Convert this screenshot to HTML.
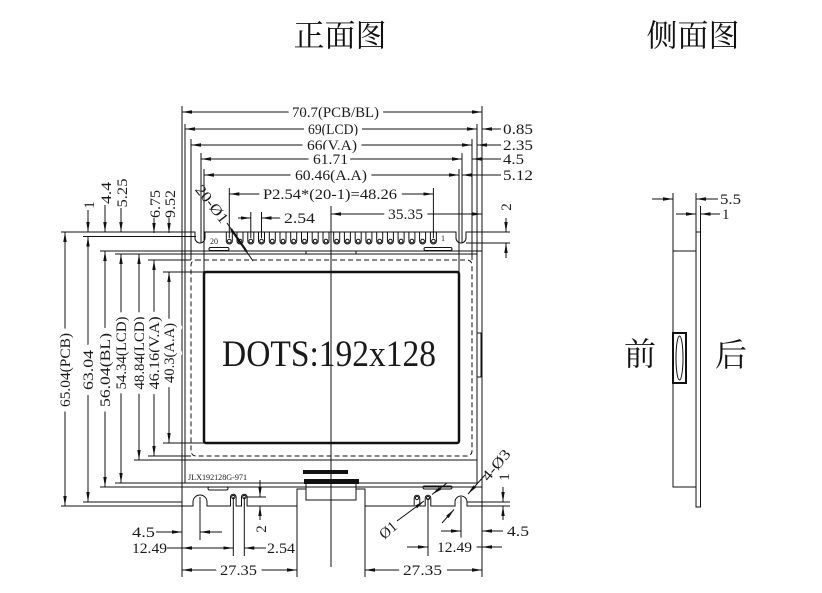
<!DOCTYPE html>
<html><head><meta charset="utf-8"><style>
html,body{margin:0;padding:0;background:#fff;}
svg{display:block;}
text{font-family:"Liberation Serif","Noto Serif CJK SC",serif;fill:#1a1a1a;}
.t{font-size:15px;stroke:#fff;stroke-width:10px;paint-order:stroke;stroke-linejoin:round;}
.n{font-size:15px;}
.cjk{font-family:"Noto Serif CJK SC","Liberation Serif",serif;fill:#111;}
</style></head><body>
<svg width="822" height="593" viewBox="0 0 822 593" xmlns="http://www.w3.org/2000/svg">
<defs>
<marker id="a" viewBox="0 0 10 6" refX="10" refY="3" markerWidth="10" markerHeight="6" markerUnits="userSpaceOnUse" orient="auto-start-reverse"><path d="M0,1.3 L10,3 L0,4.7z" fill="#111"/></marker>
</defs>

<!-- titles -->
<text class="cjk" x="340" y="33" font-size="31" text-anchor="middle" dominant-baseline="central">正面图</text>
<text class="cjk" x="693" y="33" font-size="31" text-anchor="middle" dominant-baseline="central">侧面图</text>

<g stroke="#111" stroke-width="1" fill="none">
<!-- vertical extension lines top -->
<line x1="182" y1="106" x2="182" y2="577"/>
<line x1="185" y1="124" x2="185" y2="483"/>
<line x1="191" y1="139" x2="191" y2="260"/>
<line x1="201" y1="153" x2="201" y2="243"/>
<line x1="204" y1="169" x2="204" y2="272"/>
<line x1="229.3" y1="188" x2="229.3" y2="238"/>
<line x1="250.8" y1="212" x2="250.8" y2="238"/>
<line x1="261.5" y1="212" x2="261.5" y2="238"/>
<line x1="433.4" y1="188" x2="433.4" y2="238"/>
<line x1="459" y1="169" x2="459" y2="272"/>
<line x1="462" y1="153" x2="462" y2="243"/>
<line x1="472" y1="139" x2="472" y2="260"/>
<line x1="477" y1="124" x2="477" y2="483"/>
<line x1="482" y1="106" x2="482" y2="577"/>
<line x1="331" y1="206" x2="331" y2="567"/>

<!-- top horizontal dims -->
<line x1="182" y1="112" x2="482" y2="112" marker-start="url(#a)" marker-end="url(#a)"/>
<line x1="185" y1="129" x2="477" y2="129" marker-start="url(#a)" marker-end="url(#a)"/>
<line x1="482" y1="129" x2="501" y2="129" marker-start="url(#a)"/>
<line x1="191" y1="145" x2="472" y2="145" marker-start="url(#a)" marker-end="url(#a)"/>
<line x1="477" y1="145" x2="501" y2="145" marker-start="url(#a)"/>
<line x1="201" y1="159" x2="462" y2="159" marker-start="url(#a)" marker-end="url(#a)"/>
<line x1="472" y1="159" x2="501" y2="159" marker-start="url(#a)"/>
<line x1="204" y1="175" x2="459" y2="175" marker-start="url(#a)" marker-end="url(#a)"/>
<line x1="462" y1="175" x2="501" y2="175" marker-start="url(#a)"/>
<line x1="229.3" y1="194" x2="433.4" y2="194" marker-start="url(#a)" marker-end="url(#a)"/>
<line x1="238" y1="218" x2="250.8" y2="218" marker-end="url(#a)"/>
<line x1="261.5" y1="218" x2="282" y2="218" marker-start="url(#a)"/>
<line x1="331" y1="214" x2="482" y2="214" marker-start="url(#a)" marker-end="url(#a)"/>

<!-- right "2" dim -->
<line x1="482" y1="232" x2="510" y2="232"/>
<line x1="466" y1="243" x2="510" y2="243"/>
<line x1="506" y1="218" x2="506" y2="232" marker-end="url(#a)"/>
<line x1="506" y1="243" x2="506" y2="258" marker-start="url(#a)"/>

<!-- left horizontal extension lines -->
<line x1="61" y1="232" x2="182" y2="232"/>
<line x1="83" y1="236.5" x2="196" y2="236.5"/>
<line x1="100" y1="251" x2="182" y2="251"/>
<line x1="115" y1="254" x2="185" y2="254"/>
<line x1="148" y1="260" x2="191" y2="260"/>
<line x1="163" y1="272" x2="204" y2="272"/>
<line x1="163" y1="443" x2="204" y2="443"/>
<line x1="148" y1="456" x2="191" y2="456"/>
<line x1="134" y1="460" x2="185" y2="460"/>
<line x1="115" y1="483" x2="185" y2="483"/>
<line x1="100" y1="487" x2="182" y2="487"/>
<line x1="83" y1="502" x2="182" y2="502"/>
<line x1="61" y1="506" x2="182" y2="506"/>

<!-- left vertical dims -->
<line x1="65" y1="232" x2="65" y2="506" marker-start="url(#a)" marker-end="url(#a)"/>
<line x1="88" y1="210" x2="88" y2="232" marker-end="url(#a)"/>
<line x1="88" y1="236.5" x2="88" y2="502" marker-start="url(#a)" marker-end="url(#a)"/>
<line x1="105" y1="205" x2="105" y2="232" marker-end="url(#a)"/>
<line x1="105" y1="251" x2="105" y2="487" marker-start="url(#a)" marker-end="url(#a)"/>
<line x1="121" y1="208" x2="121" y2="232" marker-end="url(#a)"/>
<line x1="121" y1="254" x2="121" y2="483" marker-start="url(#a)" marker-end="url(#a)"/>
<line x1="139" y1="254" x2="139" y2="460" marker-start="url(#a)" marker-end="url(#a)"/>
<line x1="154" y1="218" x2="154" y2="233" marker-end="url(#a)"/>
<line x1="154" y1="260" x2="154" y2="456" marker-start="url(#a)" marker-end="url(#a)"/>
<line x1="169" y1="218" x2="169" y2="233" marker-end="url(#a)"/>
<line x1="169" y1="272" x2="169" y2="443" marker-start="url(#a)" marker-end="url(#a)"/>

<!-- PCB top edge with slots -->
<path d="M182,232 H195 V238 A5,5 0 0 0 205,238 V232 H456 V238 A5,5 0 0 0 466,238 V232 H482"/>
<!-- pins -->
<path d="M226.3,232V241A3,3 0 0 0 232.3,241V232 M237,232V241A3,3 0 0 0 243,241V232 M247.8,232V241A3,3 0 0 0 253.8,241V232 M258.5,232V241A3,3 0 0 0 264.5,241V232 M269.3,232V241A3,3 0 0 0 275.3,241V232 M280,232V241A3,3 0 0 0 286,241V232 M290.7,232V241A3,3 0 0 0 296.7,241V232 M301.5,232V241A3,3 0 0 0 307.5,241V232 M312.2,232V241A3,3 0 0 0 318.2,241V232 M323,232V241A3,3 0 0 0 329,241V232 M333.7,232V241A3,3 0 0 0 339.7,241V232 M344.4,232V241A3,3 0 0 0 350.4,241V232 M355.2,232V241A3,3 0 0 0 361.2,241V232 M365.9,232V241A3,3 0 0 0 371.9,241V232 M376.7,232V241A3,3 0 0 0 382.7,241V232 M387.4,232V241A3,3 0 0 0 393.4,241V232 M398.1,232V241A3,3 0 0 0 404.1,241V232 M408.9,232V241A3,3 0 0 0 414.9,241V232 M419.6,232V241A3,3 0 0 0 425.6,241V232 M430.4,232V241A3,3 0 0 0 436.4,241V232"/>
<g>
<circle cx="229.3" cy="241" r="1.8"/><circle cx="240" cy="241" r="1.8"/><circle cx="250.8" cy="241" r="1.8"/><circle cx="261.5" cy="241" r="1.8"/><circle cx="272.3" cy="241" r="1.8"/><circle cx="283" cy="241" r="1.8"/><circle cx="293.7" cy="241" r="1.8"/><circle cx="304.5" cy="241" r="1.8"/><circle cx="315.2" cy="241" r="1.8"/><circle cx="326" cy="241" r="1.8"/><circle cx="336.7" cy="241" r="1.8"/><circle cx="347.4" cy="241" r="1.8"/><circle cx="358.2" cy="241" r="1.8"/><circle cx="368.9" cy="241" r="1.8"/><circle cx="379.7" cy="241" r="1.8"/><circle cx="390.4" cy="241" r="1.8"/><circle cx="401.1" cy="241" r="1.8"/><circle cx="411.9" cy="241" r="1.8"/><circle cx="422.6" cy="241" r="1.8"/><circle cx="433.4" cy="241" r="1.8"/>
</g>

<!-- 20-Ø1 leader -->
<line x1="227" y1="223" x2="253" y2="261"/>
<line x1="231" y1="229" x2="247" y2="252" stroke-width="2.2"/>

<!-- tabs -->
<rect x="209" y="247.5" width="20" height="3" rx="1.5"/>
<rect x="424" y="247.5" width="28" height="3" rx="1.5"/>
<rect x="208" y="487" width="20" height="3" rx="1.5"/>
<rect x="423" y="486" width="29" height="3" rx="1.5"/>

<!-- BL / LCD -->
<rect x="182" y="251" width="300" height="236"/>
<rect x="185" y="254" width="292" height="229"/>
<line x1="185" y1="460" x2="477" y2="460"/>
<line x1="306" y1="251" x2="306" y2="254"/>
<line x1="356" y1="251" x2="356" y2="254"/>
<rect x="191" y="260" width="281" height="196" rx="5" stroke-dasharray="5 3"/>
<rect x="204" y="272" width="255" height="171" rx="2" stroke-width="2.5"/>
<rect x="477" y="333" width="4" height="44"/>

<!-- PCB bottom edge -->
<path d="M182,506 H193 V502 A7,7 0 0 1 207,502 V506 H230.5 V497 A2.8,2.8 0 0 1 236.1,497 V506 H241.5 V497 A2.8,2.8 0 0 1 247.1,497 V506 H297 V489 H306"/>
<path d="M356,489 H365 V506 H414.2 V498 A2.8,2.8 0 0 1 419.8,498 V506 H425.2 V498 A2.8,2.8 0 0 1 430.8,498 V506 H455 V502 A6,6 0 0 1 467,502 V506 H482"/>
<circle cx="233.3" cy="497" r="1.6"/><circle cx="244.3" cy="497" r="1.6"/>
<circle cx="417" cy="498" r="1.6"/><circle cx="428" cy="498" r="1.6"/>
<rect x="306" y="480" width="50" height="20"/>

<!-- bottom extension lines -->
<line x1="200" y1="497" x2="200" y2="540"/>
<line x1="233.3" y1="497" x2="233.3" y2="556"/>
<line x1="244.3" y1="497" x2="244.3" y2="556"/>
<line x1="297" y1="506" x2="297" y2="577"/>
<line x1="365" y1="506" x2="365" y2="577"/>
<line x1="428" y1="498" x2="428" y2="556"/>
<line x1="461" y1="497" x2="461" y2="540"/>
<line x1="246" y1="497" x2="266" y2="497"/>
<line x1="482" y1="506" x2="510" y2="506"/>
<line x1="467" y1="502" x2="510" y2="502"/>

<!-- bottom small vertical dims -->
<line x1="260" y1="480" x2="260" y2="497" marker-end="url(#a)"/>
<line x1="260" y1="506" x2="260" y2="520" marker-start="url(#a)"/>
<line x1="503" y1="487" x2="503" y2="502" marker-end="url(#a)"/>
<line x1="503" y1="506" x2="503" y2="520" marker-start="url(#a)"/>

<!-- bottom horizontal dims -->
<line x1="156" y1="532" x2="182" y2="532" marker-end="url(#a)"/>
<line x1="200" y1="532" x2="222" y2="532" marker-start="url(#a)"/>
<line x1="167" y1="548" x2="182" y2="548"/>
<line x1="182" y1="548" x2="233.3" y2="548" marker-start="url(#a)" marker-end="url(#a)"/>
<line x1="244.3" y1="548" x2="266" y2="548" marker-start="url(#a)"/>
<line x1="182" y1="570" x2="297" y2="570" marker-start="url(#a)" marker-end="url(#a)"/>
<line x1="365" y1="570" x2="482" y2="570" marker-start="url(#a)" marker-end="url(#a)"/>
<line x1="407" y1="547" x2="428" y2="547" marker-end="url(#a)"/>
<line x1="472" y1="547" x2="482" y2="547"/>
<line x1="482" y1="547" x2="502" y2="547" marker-start="url(#a)"/>
<line x1="441" y1="531" x2="461" y2="531" marker-end="url(#a)"/>
<line x1="482" y1="531" x2="503" y2="531" marker-start="url(#a)"/>

<!-- Ø1 leader -->
<line x1="397" y1="521" x2="424" y2="501" marker-end="url(#a)"/>
<line x1="447" y1="483" x2="432" y2="494.5" marker-end="url(#a)"/>
<!-- 4-Ø3 leader -->
<line x1="442" y1="523" x2="454" y2="509.5" marker-end="url(#a)"/>
<line x1="485" y1="475" x2="468" y2="494" marker-end="url(#a)"/>

<!-- side view -->
<line x1="673" y1="193" x2="673" y2="251"/>
<line x1="696" y1="193" x2="696" y2="232"/>
<line x1="700.5" y1="206" x2="700.5" y2="232"/>
<line x1="652" y1="199" x2="673" y2="199" marker-end="url(#a)"/>
<line x1="696" y1="199" x2="718" y2="199" marker-start="url(#a)"/>
<line x1="676" y1="214" x2="696" y2="214" marker-end="url(#a)"/>
<line x1="700.5" y1="214" x2="720" y2="214" marker-start="url(#a)"/>
<rect x="673" y="251" width="23" height="236"/>
<rect x="696" y="232" width="4.5" height="275"/>
<rect x="673" y="333" width="13" height="50" stroke-width="2"/>
<ellipse cx="679.5" cy="358" rx="3.5" ry="22"/>
</g>

<!-- FPC bars -->
<rect x="303" y="470" width="45" height="4" fill="#111"/>
<rect x="304" y="479" width="55" height="5" fill="#111"/>

<!-- DOTS text -->
<text x="222" y="366" font-size="37" textLength="214" lengthAdjust="spacingAndGlyphs">DOTS:192x128</text>
<text x="188" y="480" font-size="8" textLength="59" lengthAdjust="spacingAndGlyphs">JLX192128G-971</text>
<text x="210" y="244" font-size="8">20</text>
<text x="441" y="241" font-size="8">1</text>

<!-- top dim labels -->
<text class="t" x="292" y="117" textLength="87" lengthAdjust="spacingAndGlyphs">70.7(PCB/BL)</text>
<text class="t" x="308" y="134" textLength="50" lengthAdjust="spacingAndGlyphs">69(LCD)</text>
<text class="t" x="307" y="150" textLength="50" lengthAdjust="spacingAndGlyphs">66(V.A)</text>
<text class="t" x="313" y="164" textLength="35" lengthAdjust="spacingAndGlyphs">61.71</text>
<text class="t" x="295" y="180" textLength="72" lengthAdjust="spacingAndGlyphs">60.46(A.A)</text>
<text class="t" x="263" y="199" textLength="134" lengthAdjust="spacingAndGlyphs">P2.54*(20-1)=48.26</text>
<text class="t" x="284" y="223" textLength="31" lengthAdjust="spacingAndGlyphs">2.54</text>
<text class="t" x="388" y="219" textLength="35" lengthAdjust="spacingAndGlyphs">35.35</text>
<text class="n" x="503" y="134" textLength="30" lengthAdjust="spacingAndGlyphs">0.85</text>
<text class="n" x="503" y="150" textLength="30" lengthAdjust="spacingAndGlyphs">2.35</text>
<text class="n" x="503" y="164" textLength="21" lengthAdjust="spacingAndGlyphs">4.5</text>
<text class="n" x="503" y="180" textLength="30" lengthAdjust="spacingAndGlyphs">5.12</text>
<text class="n" transform="translate(506,207) rotate(-90)" y="5" text-anchor="middle">2</text>

<!-- left rotated labels -->
<text class="t" transform="translate(65,370) rotate(-90)" y="5" text-anchor="middle" textLength="74" lengthAdjust="spacingAndGlyphs">65.04(PCB)</text>
<text class="t" transform="translate(88,370) rotate(-90)" y="5" text-anchor="middle" textLength="40" lengthAdjust="spacingAndGlyphs">63.04</text>
<text class="t" transform="translate(105,370) rotate(-90)" y="5" text-anchor="middle" textLength="74" lengthAdjust="spacingAndGlyphs">56.04(BL)</text>
<text class="t" transform="translate(121,353) rotate(-90)" y="5" text-anchor="middle" textLength="73" lengthAdjust="spacingAndGlyphs">54.34(LCD)</text>
<text class="t" transform="translate(139,353) rotate(-90)" y="5" text-anchor="middle" textLength="73" lengthAdjust="spacingAndGlyphs">48.84(LCD)</text>
<text class="t" transform="translate(154,353) rotate(-90)" y="5" text-anchor="middle" textLength="73" lengthAdjust="spacingAndGlyphs">46.16(V.A)</text>
<text class="t" transform="translate(169,353) rotate(-90)" y="5" text-anchor="middle" textLength="60" lengthAdjust="spacingAndGlyphs">40.3(A.A)</text>
<text class="n" transform="translate(89,205) rotate(-90)" y="5" text-anchor="middle">1</text>
<text class="n" transform="translate(106,193) rotate(-90)" y="5" text-anchor="middle" textLength="22" lengthAdjust="spacingAndGlyphs">4.4</text>
<text class="n" transform="translate(122,193) rotate(-90)" y="5" text-anchor="middle" textLength="29" lengthAdjust="spacingAndGlyphs">5.25</text>
<text class="n" transform="translate(155,204) rotate(-90)" y="5" text-anchor="middle" textLength="28" lengthAdjust="spacingAndGlyphs">6.75</text>
<text class="n" transform="translate(170,204) rotate(-90)" y="5" text-anchor="middle" textLength="28" lengthAdjust="spacingAndGlyphs">9.52</text>

<!-- diagonal labels -->
<text class="n" transform="translate(212,204) rotate(52)" y="5" text-anchor="middle" textLength="44" lengthAdjust="spacingAndGlyphs">20-Ø1</text>
<text class="n" transform="translate(388,530) rotate(-40)" y="5" text-anchor="middle">Ø1</text>
<text class="n" transform="translate(496,465) rotate(-50)" y="5" text-anchor="middle" textLength="36" lengthAdjust="spacingAndGlyphs">4-Ø3</text>

<!-- bottom labels -->
<text class="n" x="132" y="537" textLength="23" lengthAdjust="spacingAndGlyphs">4.5</text>
<text class="n" x="132" y="553" textLength="35" lengthAdjust="spacingAndGlyphs">12.49</text>
<text class="n" x="267" y="553" textLength="28" lengthAdjust="spacingAndGlyphs">2.54</text>
<text class="t" x="220" y="575" textLength="37" lengthAdjust="spacingAndGlyphs">27.35</text>
<text class="t" x="403" y="575" textLength="39" lengthAdjust="spacingAndGlyphs">27.35</text>
<text class="t" x="437" y="552" textLength="35" lengthAdjust="spacingAndGlyphs">12.49</text>
<text class="n" x="507" y="536" textLength="22" lengthAdjust="spacingAndGlyphs">4.5</text>
<text class="n" transform="translate(261,529) rotate(-90)" y="5" text-anchor="middle">2</text>
<text class="n" transform="translate(504,477) rotate(-90)" y="5" text-anchor="middle">1</text>

<!-- side view labels -->
<text class="n" x="720" y="204" textLength="21" lengthAdjust="spacingAndGlyphs">5.5</text>
<text class="n" x="722" y="219">1</text>
<text class="cjk" x="640" y="352" font-size="32" text-anchor="middle" dominant-baseline="central">前</text>
<text class="cjk" x="731" y="353" font-size="32" text-anchor="middle" dominant-baseline="central">后</text>
</svg>
</body></html>
